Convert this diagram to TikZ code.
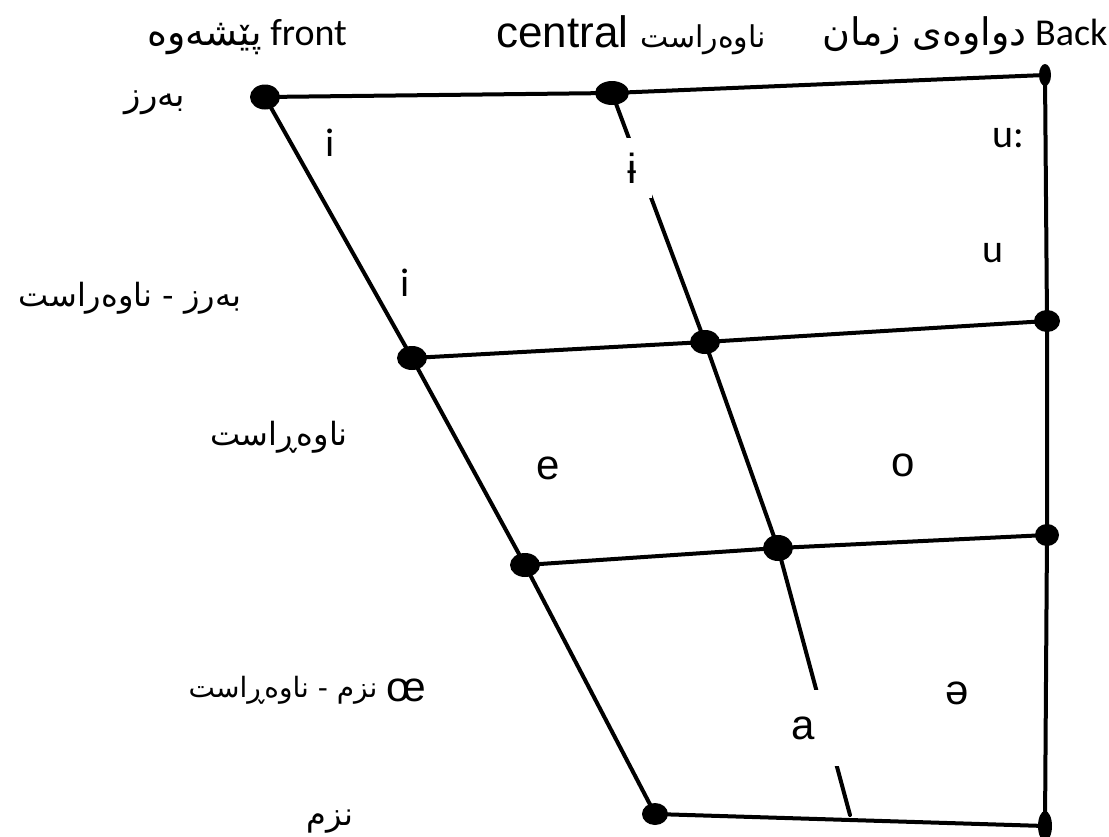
\documentclass[tikz,border=0pt]{standalone}
\usepackage{fontspec}
\setmainfont{Carlito}
\newfontfamily\arialfont{Liberation Sans}
\newfontfamily\kurdfont[Script=Arabic]{DejaVu Sans}
\TeXXeTstate=1
\usetikzlibrary{shapes.geometric, positioning}

\tikzset{
  dot/.style={ellipse, fill=black, inner sep=0pt},
  edge/.style={line width=2pt, line cap=round},
  vowel/.style={fill=white, inner sep=1pt, font=\fontsize{20}{24}\selectfont},
  ipa/.style={fill=white, inner sep=1pt, font=\arialfont\fontsize{21}{24}\selectfont},
  side/.style={inner sep=0pt, font=\kurdfont\fontsize{16}{20}\selectfont},
  head/.style={inner sep=0pt, anchor=base, font=\fontsize{19}{22}\selectfont}
}

\begin{document}
\begin{tikzpicture}[x=0.5pt, y=-0.5pt]
\useasboundingbox (0,0) rectangle (1109,836);

% Dots (name/x/y/width/height)
\foreach \n/\px/\py/\w/\h in {tl/265/97/15/12.5, tc/612/93/17/12, tr/1045/75/6/11,
    ml/412/358/15/12, mc/705/342/15/12, mr/1047/321/13/11,
    ll/525/565/15/12, lc/778/548/15/13, lr/1047/535/12/11,
    bl/655/814/13/11, br/1045/826/7/15}
{
    \node[dot, minimum width=\w pt, minimum height=\h pt] (\n) at (\px,\py) {};
}
\coordinate (cend) at (850,815);

% Frame
\draw[edge] (tl.center) -- (tc.center) -- (tr.center);
\draw[edge] (tl.center) -- (ml.center) -- (ll.center) -- (bl.center);
\draw[edge] (bl.center) -- (br.center);
\draw[edge] (tr.center) -- (mr.center) -- (lr.center) -- (br.center);

% Inner lines
\draw[edge] (ml.center) -- (mc.center) -- (mr.center);
\draw[edge] (ll.center) -- (lc.center) -- (lr.center);
\draw[edge] (tc.center) -- (mc.center) -- (lc.center) -- (cend);

% Vowels
\node[vowel] (vi1) at (330,143) {i};
\node[ipa, minimum width=20pt, minimum height=30pt] (vbar) at (632,168) {ɨ};
\node[vowel] (vuu) at (1008,138) {u:};
\node[vowel] (vu) at (993,253) {u};
\node[vowel] (vi2) at (405,283) {i};
\node[ipa] (ve) at (548,468) {e};
\node[ipa] (vo) at (903,465) {o};
\node[ipa] (voe) at (406,690) {œ};
\node[ipa] (vschwa) at (957,693) {ə};
\node[ipa, minimum width=36pt, minimum height=38pt] (va) at (803,728) {a};

% Column heads
\node[head] (hfront) at (247,45) {{\kurdfont\beginR پێشەوە\endR}\ front};
\node[head, font=\arialfont\fontsize{22}{26}\selectfont] (hcentral) at (631,47) {central {\kurdfont\fontsize{15}{18}\selectfont\beginR ناوەراست\endR}};
\node[head] (hback) at (965,45) {{\kurdfont\beginR دواوەی زمان\endR}\ Back};

% Row labels
\node[side, font=\kurdfont\fontsize{17}{20}\selectfont] (rhigh) at (155,103) {\beginR بەرز\endR};
\node[side] (rhmid) at (130,298) {\beginR ناوەراست\endR{} - \beginR بەرز\endR};
\node[side] (rmid) at (279,437) {\beginR ناوەڕاست\endR};
\node[side, font=\kurdfont\fontsize{14}{18}\selectfont] (rlmid) at (283,690) {\beginR ناوەڕاست\endR{} - \beginR نزم\endR};
\node[side] (rlow) at (330,822) {\beginR نزم\endR};

\end{tikzpicture}
\end{document}
